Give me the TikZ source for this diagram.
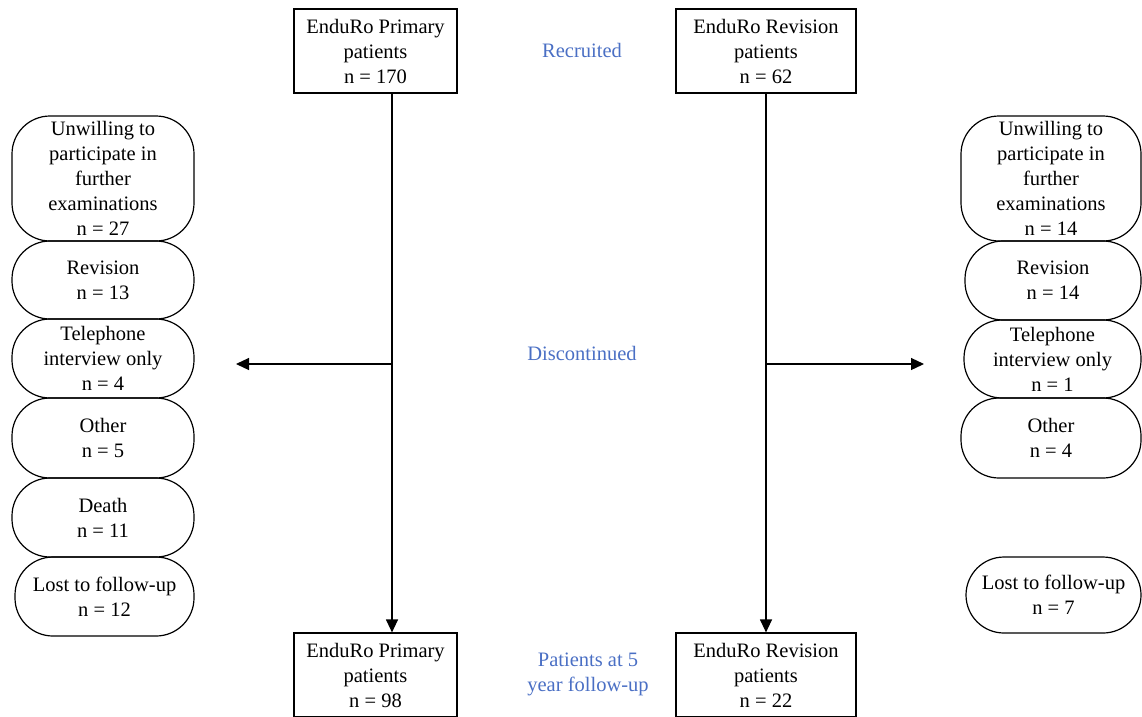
\documentclass[tikz,border=0pt]{standalone}
\usepackage{fontspec}
\setmainfont{Liberation Serif}
\usetikzlibrary{arrows.meta}
\definecolor{lblblue}{HTML}{4A6FC4}
\tikzset{
  x=1pt, y=-1pt,
  every node/.style={font=\fontsize{20.5}{25}\selectfont, align=center, inner sep=0pt},
  sqbox/.style={draw, line width=1.2pt, rectangle, minimum width=163pt, minimum height=84pt},
  sqboxw/.style={sqbox, minimum width=180pt},
  pill/.style={draw, line width=1.2pt, rectangle, rounded corners=38pt},
  lbl/.style={text=lblblue},
  flow/.style={line width=1.2pt, -{Triangle[length=13pt,width=12pt]}},
  plain/.style={line width=1.2pt}
}
\begin{document}
\begin{tikzpicture}
\useasboundingbox (0,0) rectangle (1142,716);
% main boxes
\node[sqbox]  (p1) at (375.5,51) {EnduRo Primary\\patients\\n = 170};
\node[sqboxw] (r1) at (766,51) {EnduRo Revision\\patients\\n = 62};
\node[sqbox]  (p2) at (375.5,675) {EnduRo Primary\\patients\\n = 98};
\node[sqboxw] (r2) at (766,675) {EnduRo Revision\\patients\\n = 22};
% labels
\node[lbl] (rec) at (582,50) {Recruited};
\node[lbl] (dis) at (582,353) {Discontinued};
\node[lbl] (fu)  at (588,674) {Patients at 5\\year follow-up};
% vertical flows
\coordinate (pj) at (392,364);
\coordinate (rj) at (766,364);
\coordinate (pl) at (236,364);
\coordinate (rr) at (924,364);
\draw[flow] (p1.south -| pj) -- (p2.north -| pj);
\draw[flow] (r1.south) -- (r2.north);
\draw[flow] (pj) -- (pl);
\draw[flow] (rj) -- (rr);
% left pills
\node[pill, minimum width=182pt, minimum height=125pt] (l1) at (103,178.5) {Unwilling to\\participate in\\further\\examinations\\n = 27};
\node[pill, minimum width=182pt, minimum height=78pt] (l2) at (103,280) {Revision\\n = 13};
\node[pill, minimum width=182pt, minimum height=79pt] (l3) at (103,358.5) {Telephone\\interview only\\n = 4};
\node[pill, minimum width=182pt, minimum height=80pt] (l4) at (103,438) {Other\\n = 5};
\node[pill, minimum width=182pt, minimum height=79pt] (l5) at (103,517.5) {Death\\n = 11};
\node[pill, minimum width=179pt, minimum height=79pt] (l6) at (104.5,596.5) {Lost to follow-up\\n = 12};
% right pills
\node[pill, minimum width=180pt, minimum height=125pt] (q1) at (1051,178.5) {Unwilling to\\participate in\\further\\examinations\\n = 14};
\node[pill, minimum width=176pt, minimum height=79pt] (q2) at (1053,280.5) {Revision\\n = 14};
\node[pill, minimum width=177pt, minimum height=78pt] (q3) at (1052.5,359) {Telephone\\interview only\\n = 1};
\node[pill, minimum width=180pt, minimum height=80pt] (q4) at (1051,438) {Other\\n = 4};
\node[pill, minimum width=175pt, minimum height=76pt] (q5) at (1053.5,595) {Lost to follow-up\\n = 7};
\end{tikzpicture}
\end{document}
